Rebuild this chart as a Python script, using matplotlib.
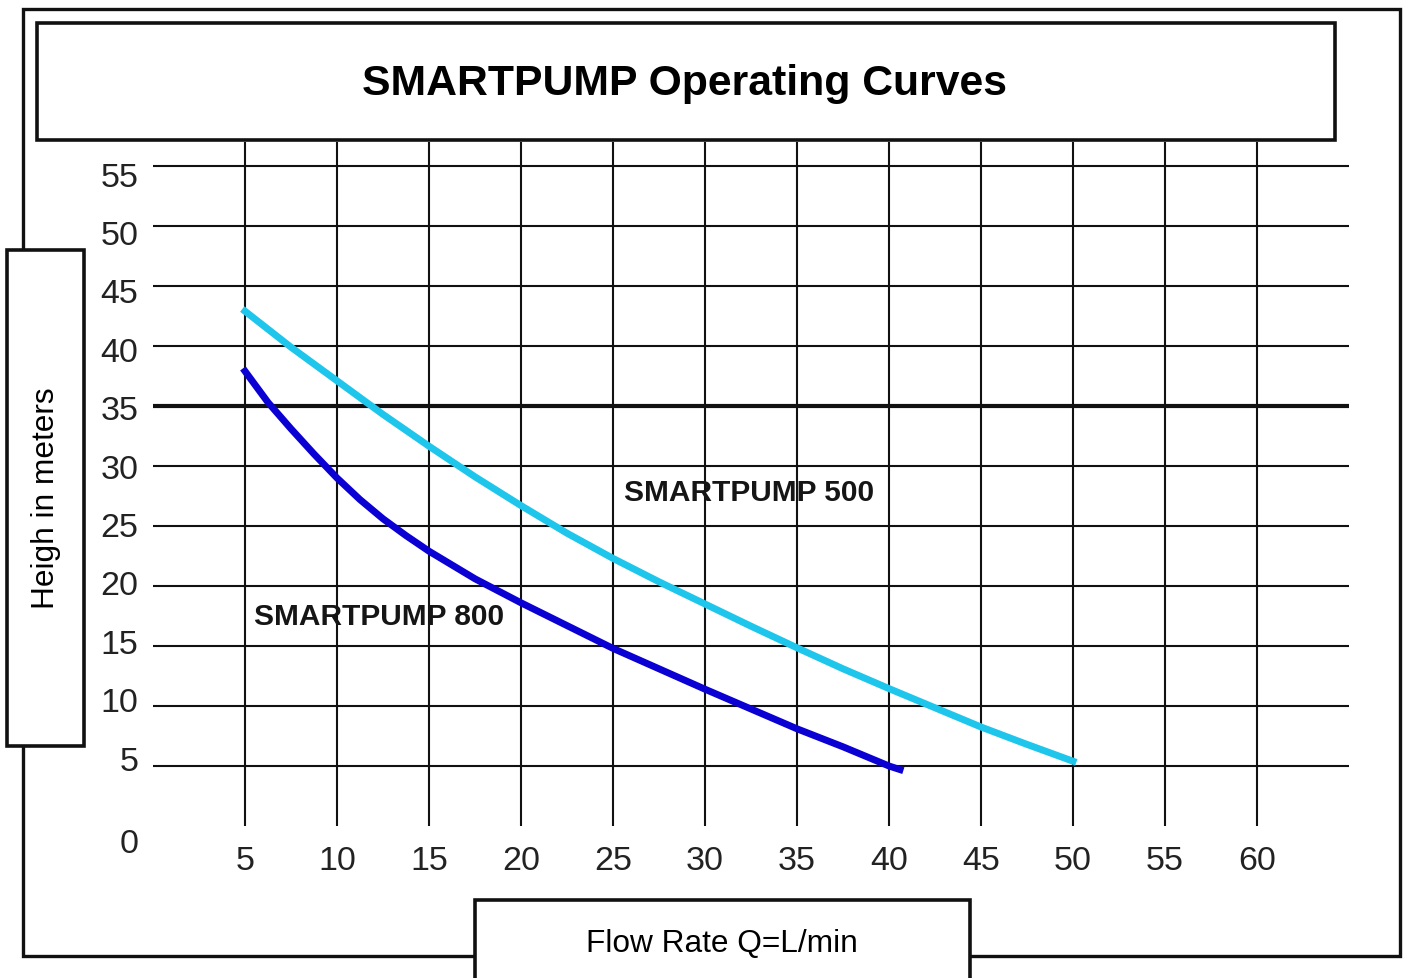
import matplotlib
matplotlib.use("Agg")
import matplotlib.pyplot as plt
from matplotlib.patches import Rectangle

plt.rcParams['font.family'] = ['Liberation Sans', 'DejaVu Sans']

# 读图得到的数据
flow_500 = [5, 7.5, 10, 12.5, 15, 17.5, 20, 22.5, 25, 27.5, 30, 32.5, 35, 37.5, 40, 42.5, 45, 47.5, 50]
head_500 = [42.9, 39.9, 37.1, 34.3, 31.65, 29.1, 26.7, 24.4, 22.3, 20.35, 18.5, 16.65, 14.85, 13.1, 11.45, 9.85, 8.25, 6.8, 5.4]

flow_800 = [5, 6.25, 7.5, 8.75, 10, 11.25, 12.5, 13.75, 15, 17.5, 20, 22.5, 25, 27.5, 30, 32.5, 35, 37.5, 40, 40.6]
head_800 = [37.9, 35.3, 33.1, 31.0, 29.0, 27.2, 25.6, 24.2, 22.9, 20.6, 18.6, 16.7, 14.8, 13.1, 11.4, 9.75, 8.1, 6.6, 5.0, 4.7]

x_ticks = [5, 10, 15, 20, 25, 30, 35, 40, 45, 50, 55, 60]
y_ticks = [5, 10, 15, 20, 25, 30, 35, 40, 45, 50, 55]
y_labels = [0] + y_ticks

title = "SMARTPUMP Operating Curves"
ylabel = "Heigh in meters"
xlabel = "Flow Rate Q=L/min"

W, H = 1406, 979
fig = plt.figure(figsize=(W / 100, H / 100), dpi=100)


def fbox(x0, y0, x1, y1, lw=2.5, fill=False):
    # 像素坐标 -> figure 坐标
    r = Rectangle((x0 / W, 1 - y1 / H), (x1 - x0) / W, (y1 - y0) / H,
                  transform=fig.transFigure, fill=fill, facecolor='white',
                  edgecolor='#111111', lw=lw, zorder=5)
    fig.patches.append(r)


# 外框
fbox(23, 10, 1400, 957, lw=2.4)

ax = fig.add_axes([153 / W, (H - 827) / H, 1196 / W, 684 / H])
ax.set_xlim(0, 65)
ax.set_ylim(0, 57)
for s in ax.spines.values():
    s.set_visible(False)

# 网格
for x in x_ticks:
    ax.axvline(x, color='#111111', lw=1.5, zorder=1)
for y in y_ticks:
    ax.axhline(y, color='#111111', lw=3 if y == 35 else 1.5, zorder=1)

# 曲线
ax.plot(flow_500, head_500, color='#1ec6ec', lw=5, zorder=3)
ax.plot(flow_800, head_800, color='#0a00d4', lw=5, zorder=3)

ax.text(25.6, 27.8, "SMARTPUMP 500", fontsize=21.5, fontweight='bold',
        color='#151515', va='center', ha='left', zorder=4)
ax.text(5.5, 17.5, "SMARTPUMP 800", fontsize=21.5, fontweight='bold',
        color='#151515', va='center', ha='left', zorder=4)

# 刻度
ax.set_xticks(x_ticks)
ax.set_xticklabels([str(v) for v in x_ticks], fontsize=24.5, color='#222222')
ax.tick_params(axis='x', length=0, pad=14)
ax.set_yticks([])
for v in y_labels:
    yy = -1.5 if v == 0 else 0.55 + 0.973 * v
    ax.text(-0.8, yy, str(v), fontsize=24.5, color='#222222',
            ha='right', va='center', clip_on=False)

# 标题框
fbox(37, 24, 1335, 141, lw=2.6, fill=True)
fig.text(685 / W, 1 - 84 / H, title, fontsize=30.8, fontweight='bold',
         ha='center', va='center', zorder=6)

# y 轴标签框
fbox(7, 251, 84, 747, lw=2.6, fill=True)
fig.text(46 / W, 1 - 498 / H, ylabel, fontsize=22.8, rotation=90,
         ha='center', va='center', zorder=6)

# x 轴标签框
fbox(475, 901, 970, 995, lw=2.6, fill=True)
fig.text(722 / W, 1 - 944 / H, xlabel, fontsize=22.8,
         ha='center', va='center', zorder=6)

fig.savefig("out.png", dpi=100)
